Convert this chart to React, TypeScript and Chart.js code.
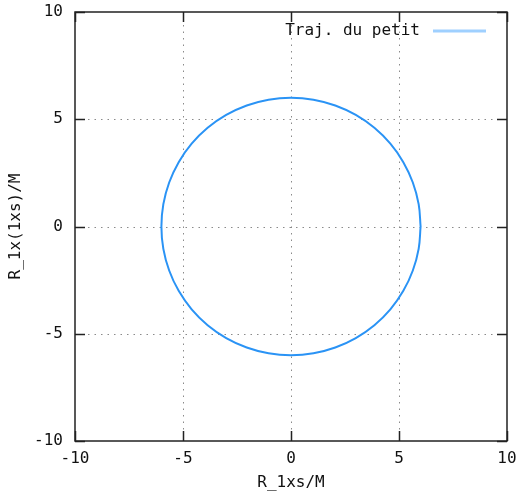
import React, { useEffect, useRef } from "react";
import { Chart, registerables } from "chart.js";

Chart.register(...registerables);

// Trajectory points (every 10 degrees)
const trajX = [6.0, 5.91, 5.64, 5.2, 4.6, 3.86, 3.0, 2.05, 1.04, 0.0, -1.04, -2.05, -3.0, -3.86, -4.6, -5.2, -5.64, -5.91, -6.0, -5.91, -5.64, -5.2, -4.6, -3.86, -3.0, -2.05, -1.04, 0.0, 1.04, 2.05, 3.0, 3.86, 4.6, 5.2, 5.64, 5.91, 6.0];
const trajY = [0.0, 1.04, 2.05, 3.0, 3.86, 4.6, 5.2, 5.64, 5.91, 6.0, 5.91, 5.64, 5.2, 4.6, 3.86, 3.0, 2.05, 1.04, 0.0, -1.04, -2.05, -3.0, -3.86, -4.6, -5.2, -5.64, -5.91, -6.0, -5.91, -5.64, -5.2, -4.6, -3.86, -3.0, -2.05, -1.04, 0.0];
const tickValues = [-10, -5, 0, 5, 10];
const seriesLabel = "Traj. du petit";
const xTitle = "R_1xs/M";
const yTitle = "R_1x(1xs)/M";

const FONT = "'DejaVu Sans Mono', monospace";

const framePlugin = {
  id: "gnuframe",
  beforeDatasetsDraw(chart: any) {
    const { ctx, chartArea: a, scales } = chart;
    const xs = scales.x, ys = scales.y;
    ctx.save();
    ctx.strokeStyle = "#8a8a8a";
    ctx.lineWidth = 1;
    ctx.setLineDash([1.5, 5]);
    for (const v of tickValues) {
      if (v === -10 || v === 10) continue;
      const px = Math.round(xs.getPixelForValue(v)) + 0.5;
      ctx.beginPath(); ctx.moveTo(px, a.top); ctx.lineTo(px, a.bottom); ctx.stroke();
      const py = Math.round(ys.getPixelForValue(v)) + 0.5;
      ctx.beginPath(); ctx.moveTo(a.left, py); ctx.lineTo(a.right, py); ctx.stroke();
    }
    ctx.restore();
  },
  afterDatasetsDraw(chart: any) {
    const { ctx, chartArea: a, scales } = chart;
    const xs = scales.x, ys = scales.y;
    ctx.save();
    ctx.setLineDash([]);
    ctx.strokeStyle = "#222";
    ctx.lineWidth = 1.5;
    const tl = 10;
    for (const v of tickValues) {
      const px = Math.round(xs.getPixelForValue(v)) + 0.5;
      ctx.beginPath();
      ctx.moveTo(px, a.bottom); ctx.lineTo(px, a.bottom - tl);
      ctx.moveTo(px, a.top); ctx.lineTo(px, a.top + tl);
      ctx.stroke();
      const py = Math.round(ys.getPixelForValue(v)) + 0.5;
      ctx.beginPath();
      ctx.moveTo(a.left, py); ctx.lineTo(a.left + tl, py);
      ctx.moveTo(a.right, py); ctx.lineTo(a.right - tl, py);
      ctx.stroke();
    }
    ctx.strokeRect(a.left, a.top, a.right - a.left, a.bottom - a.top);
    const ly = a.top + 19;
    ctx.font = `16px ${FONT}`;
    ctx.fillStyle = "#111";
    ctx.textAlign = "right";
    ctx.textBaseline = "middle";
    ctx.fillText(seriesLabel, a.right - 87, ly);
    ctx.strokeStyle = "#9fd0ff";
    ctx.lineWidth = 3;
    ctx.beginPath(); ctx.moveTo(a.right - 74, ly); ctx.lineTo(a.right - 21, ly); ctx.stroke();
    ctx.restore();
  },
};

export default function App() {
  const ref = useRef<HTMLCanvasElement>(null);
  useEffect(() => {
    document.body.style.margin = "0";
    const points = trajX.map((x, i) => ({ x, y: trajY[i] }));
    const chart = new Chart(ref.current!, {
      type: "scatter",
      data: {
        datasets: [
          {
            label: seriesLabel,
            data: points,
            showLine: true,
            borderColor: "#2a93f5",
            borderWidth: 2,
            pointRadius: 0,
            tension: 0.4,
            fill: false,
          },
        ],
      },
      options: {
        animation: false,
        responsive: false,
        layout: { padding: { top: 12, right: 13, left: 0, bottom: 0 } },
        plugins: { legend: { display: false }, tooltip: { enabled: false } },
        scales: {
          x: {
            type: "linear",
            min: -10,
            max: 10,
            afterBuildTicks: (s: any) => { s.ticks = tickValues.map((v) => ({ value: v })); },
            afterFit: (s: any) => { s.height = 52; s.paddingLeft = 0; s.paddingRight = 0; },
            grid: { display: false, drawTicks: false },
            border: { display: false },
            ticks: { color: "#111", font: { family: FONT, size: 16 }, padding: 8, maxRotation: 0 },
            title: { display: true, text: xTitle, color: "#111", font: { family: FONT, size: 16 }, padding: { top: 0, bottom: 1 } },
          },
          y: {
            type: "linear",
            min: -10,
            max: 10,
            afterBuildTicks: (s: any) => { s.ticks = tickValues.map((v) => ({ value: v })); },
            afterFit: (s: any) => { s.width = 75; s.paddingTop = 0; s.paddingBottom = 0; },
            grid: { display: false, drawTicks: false },
            border: { display: false },
            ticks: { color: "#111", font: { family: FONT, size: 16 }, padding: 12 },
            title: { display: true, text: yTitle, color: "#111", font: { family: FONT, size: 16 }, padding: { top: 6, bottom: 0 } },
          },
        },
      },
      plugins: [framePlugin],
    });
    return () => chart.destroy();
  }, []);
  return (
    <div style={{ position: "fixed", left: 0, top: 0, width: 520, height: 493, background: "#fff" }}>
      <canvas ref={ref} width={520} height={493} style={{ width: 520, height: 493 }} />
    </div>
  );
}
